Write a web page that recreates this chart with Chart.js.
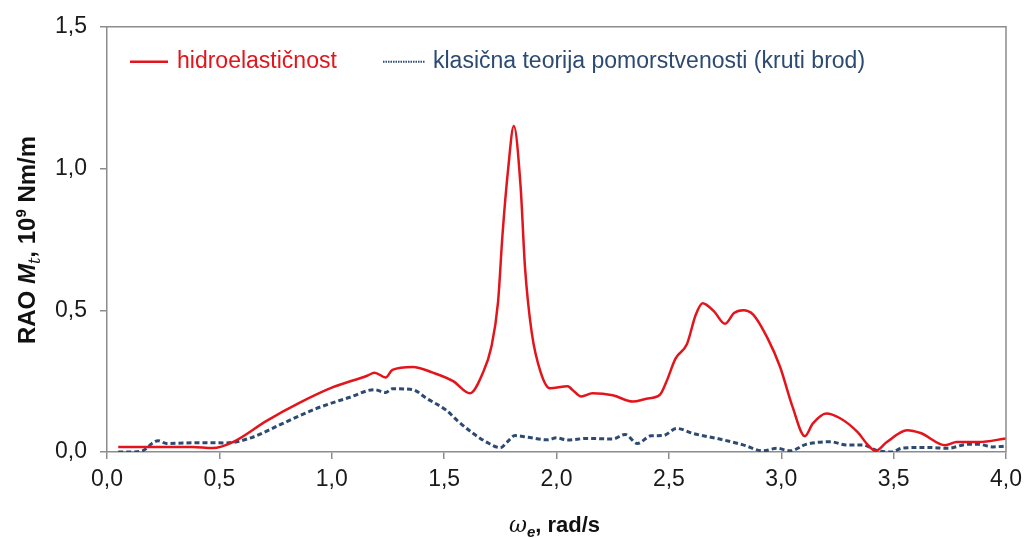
<!DOCTYPE html>
<html>
<head>
<meta charset="utf-8">
<script src="https://cdn.jsdelivr.net/npm/chart.js@4/dist/chart.umd.min.js"></script>
<style>
  html, body { margin: 0; padding: 0; background: #fff; }
  #wrap { width: 1029px; height: 538px; position: relative; }
</style>
</head>
<body>
<div id="wrap"><canvas id="c" width="1029" height="538"></canvas></div>
<script>
// Frequency of encounter (rad/s) and RAO of torsional moment (10^9 Nm/m)
const hydroOmega = [0.05,0.20,0.38,0.47,0.56,0.71,0.86,1.00,1.16,1.19,1.24,1.27,1.36,1.45,1.54,1.615,1.67,1.71,1.74,1.76,1.785,1.81,1.84,1.86,1.89,1.93,1.97,2.05,2.07,2.11,2.16,2.25,2.34,2.40,2.46,2.49,2.53,2.58,2.62,2.65,2.70,2.75,2.79,2.83,2.875,2.94,2.995,3.05,3.105,3.14,3.20,3.26,3.34,3.38,3.42,3.47,3.56,3.62,3.73,3.78,3.88,4.00];
const hydroRAO   = [0.018,0.018,0.018,0.014,0.035,0.11,0.175,0.227,0.27,0.28,0.263,0.29,0.30,0.28,0.25,0.207,0.275,0.37,0.53,0.77,1.0,1.15,0.94,0.65,0.42,0.28,0.225,0.232,0.22,0.196,0.207,0.20,0.178,0.188,0.202,0.25,0.33,0.38,0.485,0.525,0.497,0.452,0.49,0.50,0.485,0.40,0.30,0.16,0.056,0.10,0.136,0.12,0.07,0.03,0.004,0.035,0.077,0.067,0.024,0.035,0.035,0.048];

const rigidOmega = [0.05,0.10,0.16,0.20,0.227,0.265,0.41,0.53,0.64,0.78,0.93,1.08,1.19,1.24,1.27,1.36,1.42,1.51,1.56,1.63,1.70,1.75,1.78,1.815,1.87,1.96,2.00,2.05,2.135,2.25,2.305,2.36,2.42,2.475,2.535,2.61,2.73,2.83,2.92,2.98,3.04,3.11,3.22,3.29,3.36,3.43,3.49,3.54,3.65,3.74,3.83,3.88,3.94,4.00];
const rigidRAO   = [0.0,0.0,0.005,0.03,0.04,0.03,0.033,0.032,0.05,0.10,0.153,0.193,0.22,0.21,0.223,0.22,0.19,0.147,0.11,0.065,0.03,0.015,0.035,0.058,0.052,0.043,0.05,0.042,0.048,0.046,0.062,0.03,0.057,0.058,0.083,0.065,0.045,0.025,0.004,0.013,0.004,0.027,0.036,0.025,0.025,0.004,0.0,0.014,0.016,0.013,0.027,0.027,0.018,0.021];

const seriesNames = ['hidroelastičnost', 'klasična teorija pomorstvenosti (kruti brod)'];
const xTicks = [0, 0.5, 1.0, 1.5, 2.0, 2.5, 3.0, 3.5, 4.0];
const yTicks = [0, 0.5, 1.0, 1.5];

const RED = '#e3141b';
const BLUE = '#2c4a72';
const AXIS = '#8c8c8c';
const FONT = '"Liberation Sans", Arial, sans-serif';

const toPoints = (xs, ys) => xs.map((x, i) => ({ x, y: ys[i] }));
const fmt = v => Number(v).toFixed(1).replace('.', ',');

// frame, in-plot legend and rich axis titles
const decorations = {
  id: 'decorations',
  afterDraw(chart) {
    const { ctx, chartArea: a } = chart;
    ctx.save();
    ctx.strokeStyle = AXIS;
    ctx.lineWidth = 1.5;
    ctx.beginPath();
    ctx.moveTo(a.left, a.top);
    ctx.lineTo(a.right, a.top);
    ctx.lineTo(a.right, a.bottom);
    ctx.stroke();

    // legend
    const ly = a.top + 35;
    ctx.lineWidth = 2.5;
    ctx.strokeStyle = RED;
    ctx.beginPath(); ctx.moveTo(a.left + 23, ly); ctx.lineTo(a.left + 61, ly); ctx.stroke();
    ctx.strokeStyle = BLUE;
    ctx.lineWidth = 2;
    ctx.setLineDash([1.5, 1]);
    ctx.beginPath(); ctx.moveTo(a.left + 276, ly); ctx.lineTo(a.left + 318, ly); ctx.stroke();
    ctx.setLineDash([]);
    ctx.font = '23px ' + FONT;
    ctx.textBaseline = 'middle';
    ctx.fillStyle = RED;
    ctx.fillText(seriesNames[0], a.left + 70, ly);
    ctx.fillStyle = BLUE;
    ctx.fillText(seriesNames[1], a.left + 326, ly);

    // x title: ω_e, rad/s
    const xParts = [
      { t: 'ω', f: 'italic 22px "DejaVu Serif", serif', dy: 0 },
      { t: 'e', f: 'italic bold 15px ' + FONT, dy: 5 },
      { t: ', rad/s', f: 'bold 22px ' + FONT, dy: 0 }
    ];
    drawRich(ctx, xParts, (a.left + a.right) / 2 - 2, 524, 0);

    // y title: RAO M_t, 10^9 Nm/m
    const yParts = [
      { t: 'RAO ', f: 'bold 24px ' + FONT, dy: 0 },
      { t: 'M', f: 'italic bold 24px ' + FONT, dy: 0 },
      { t: 't', f: 'italic 16px "DejaVu Serif", serif', dy: 5 },
      { t: ', 10', f: 'bold 24px ' + FONT, dy: 0 },
      { t: '9', f: 'bold 15px ' + FONT, dy: -9 },
      { t: ' Nm/m', f: 'bold 24px ' + FONT, dy: 0 }
    ];
    drawRich(ctx, yParts, 27, 240, -Math.PI / 2);
    ctx.restore();
  }
};

function drawRich(ctx, parts, cx, cy, rot) {
  ctx.save();
  ctx.translate(cx, cy);
  ctx.rotate(rot);
  ctx.textBaseline = 'alphabetic';
  ctx.fillStyle = '#111';
  let w = 0;
  parts.forEach(p => { ctx.font = p.f; p.w = ctx.measureText(p.t).width; w += p.w; });
  let x = -w / 2;
  parts.forEach(p => { ctx.font = p.f; ctx.fillText(p.t, x, 8 + p.dy); x += p.w; });
  ctx.restore();
}

new Chart(document.getElementById('c'), {
  type: 'line',
  data: {
    datasets: [
      {
        label: seriesNames[0],
        data: toPoints(hydroOmega, hydroRAO),
        borderColor: RED,
        borderWidth: 2.5,
        pointRadius: 0,
        cubicInterpolationMode: 'monotone',
        fill: false
      },
      {
        label: seriesNames[1],
        data: toPoints(rigidOmega, rigidRAO),
        borderColor: BLUE,
        borderWidth: 3,
        borderDash: [5, 3],
        pointRadius: 0,
        cubicInterpolationMode: 'monotone',
        fill: false
      }
    ]
  },
  options: {
    responsive: false,
    animation: false,
    layout: { padding: { top: 23, right: 23, left: 0, bottom: 0 } },
    plugins: { legend: { display: false }, tooltip: { enabled: false } },
    scales: {
      x: {
        type: 'linear',
        min: 0, max: 4,
        afterBuildTicks: s => { s.ticks = xTicks.map(v => ({ value: v })); },
        afterFit: s => { s.height = 86; },
        grid: { drawOnChartArea: false, drawTicks: true, tickLength: 7, color: AXIS, lineWidth: 1.5 },
        border: { display: true, color: AXIS, width: 1.5 },
        ticks: { callback: fmt, color: '#1a1a1a', padding: 7, maxRotation: 0, font: { family: FONT, size: 23 } }
      },
      y: {
        min: 0, max: 1.5,
        afterBuildTicks: s => { s.ticks = yTicks.map(v => ({ value: v })); },
        afterFit: s => { s.width = 107; },
        grid: { drawOnChartArea: false, drawTicks: true, tickLength: 7, color: AXIS, lineWidth: 1.5 },
        border: { display: true, color: AXIS, width: 1.5 },
        ticks: { callback: fmt, color: '#1a1a1a', padding: 13, font: { family: FONT, size: 23 } }
      }
    }
  },
  plugins: [decorations]
});
</script>
</body>
</html>
